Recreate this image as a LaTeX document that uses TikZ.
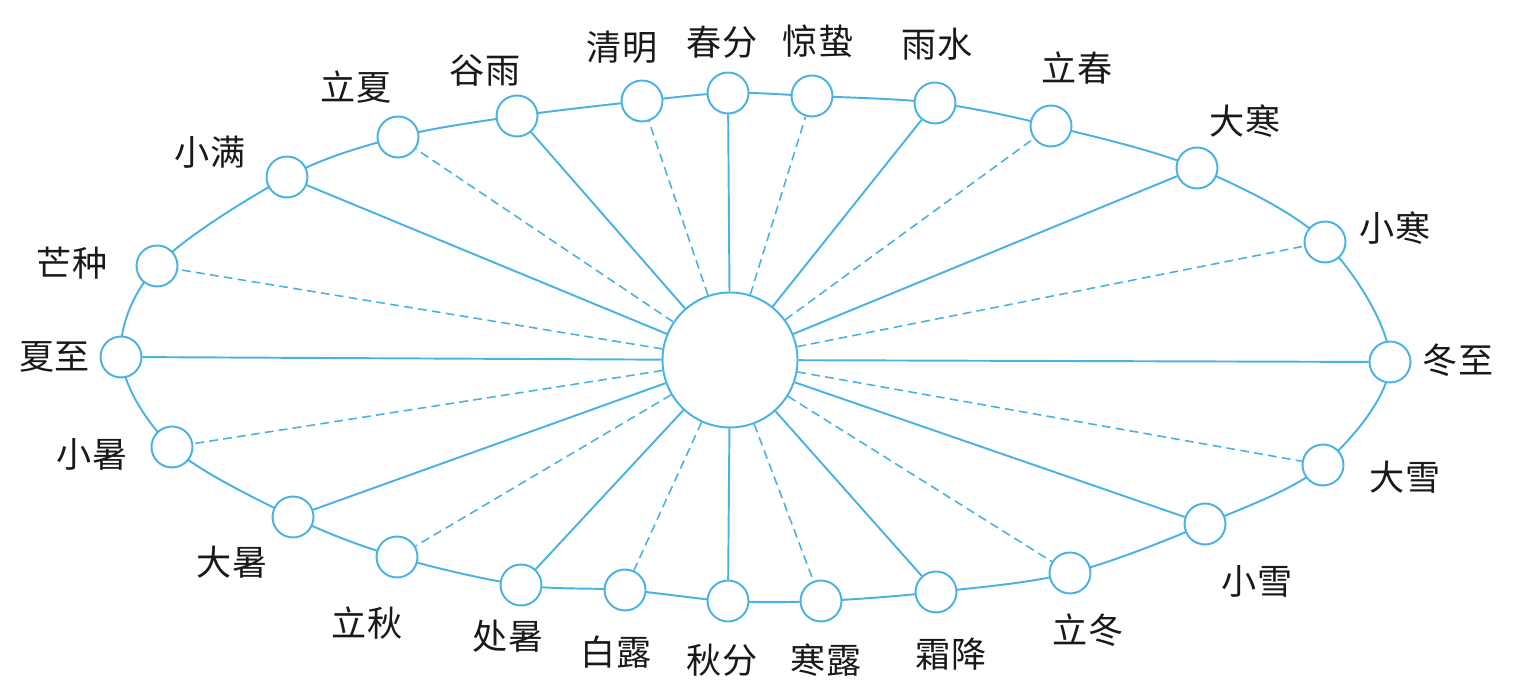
\documentclass[tikz,border=0pt]{standalone}
\usepackage{fontspec}
\newfontfamily\cjk{Noto Sans CJK SC}
\usepackage{tikz}
\usetikzlibrary{backgrounds}
\definecolor{orbitblue}{RGB}{72,178,226}

\begin{document}
\begin{tikzpicture}[
  x=0.02cm, y=-0.02cm,
  term/.style={circle, draw=orbitblue, fill=white, line width=1.1pt,
               minimum size=0.82cm, inner sep=0pt},
  sun/.style={circle, draw=orbitblue, fill=white, line width=1.1pt,
              minimum size=2.7cm, inner sep=0pt},
  tname/.style={font=\cjk\fontsize{20}{24}\selectfont, text=black!90, inner sep=0pt},
  spoke/.style={draw=orbitblue, line width=1.1pt},
  halfspoke/.style={spoke, line width=0.9pt, dash pattern=on 5pt off 3pt}
]
  \useasboundingbox (0,0) rectangle (1519,688);

  \node[sun] (sun) at (730,360) {};

  % terms on the orbit
  \node[term] (xiazhi)    at (121,357)  {};
  \node[term] (mangzhong) at (157,266)  {};
  \node[term] (xiaoman)   at (287,177)  {};
  \node[term] (lixia)     at (398,137)  {};
  \node[term] (guyu)      at (517,116)  {};
  \node[term] (qingming)  at (642,101)  {};
  \node[term] (chunfen)   at (728,93)   {};
  \node[term] (jingzhe)   at (812,96)   {};
  \node[term] (yushui)    at (935,103)  {};
  \node[term] (lichun)    at (1051,126) {};
  \node[term] (dahan)     at (1197,168) {};
  \node[term] (xiaohan)   at (1325,242) {};
  \node[term] (dongzhi)   at (1390,362) {};
  \node[term] (daxue)     at (1323,465) {};
  \node[term] (xiaoxue)   at (1205,524) {};
  \node[term] (lidong)    at (1070,573) {};
  \node[term] (shuangjiang) at (936,592) {};
  \node[term] (hanlu)     at (821,601)  {};
  \node[term] (qiufen)    at (728,601)  {};
  \node[term] (bailu)     at (625,590)  {};
  \node[term] (chushu)    at (521,585)  {};
  \node[term] (liqiu)     at (397,557)  {};
  \node[term] (dashu)     at (293,517)  {};
  \node[term] (xiaoshu)   at (172,447)  {};

  % the orbit itself
  \begin{scope}[on background layer]
    \draw[spoke] plot[smooth cycle, tension=0.55] coordinates {
      (xiazhi.center) (mangzhong.center) (xiaoman.center) (lixia.center)
      (guyu.center) (qingming.center) (chunfen.center) (jingzhe.center)
      (yushui.center) (lichun.center) (dahan.center) (xiaohan.center)
      (dongzhi.center) (daxue.center) (xiaoxue.center) (lidong.center)
      (shuangjiang.center) (hanlu.center) (qiufen.center) (bailu.center)
      (chushu.center) (liqiu.center) (dashu.center) (xiaoshu.center)};
  \end{scope}

  % spokes
  \draw[spoke]     (sun) -- (xiazhi);
  \draw[halfspoke] (sun) -- (mangzhong);
  \draw[spoke]     (sun) -- (xiaoman);
  \draw[halfspoke] (sun) -- (lixia);
  \draw[spoke]     (sun) -- (guyu);
  \draw[halfspoke] (sun) -- (qingming);
  \draw[spoke]     (sun) -- (chunfen);
  \draw[halfspoke] (sun) -- (jingzhe);
  \draw[spoke]     (sun) -- (yushui);
  \draw[halfspoke] (sun) -- (lichun);
  \draw[spoke]     (sun) -- (dahan);
  \draw[halfspoke] (sun) -- (xiaohan);
  \draw[spoke]     (sun) -- (dongzhi);
  \draw[halfspoke] (sun) -- (daxue);
  \draw[spoke]     (sun) -- (xiaoxue);
  \draw[halfspoke] (sun) -- (lidong);
  \draw[spoke]     (sun) -- (shuangjiang);
  \draw[halfspoke] (sun) -- (hanlu);
  \draw[spoke]     (sun) -- (qiufen);
  \draw[halfspoke] (sun) -- (bailu);
  \draw[spoke]     (sun) -- (chushu);
  \draw[halfspoke] (sun) -- (liqiu);
  \draw[spoke]     (sun) -- (dashu);
  \draw[halfspoke] (sun) -- (xiaoshu);

  % names
  \node[tname] (xiazhiL)    at (55,357)   {夏至};
  \node[tname] (mangzhongL) at (72,263)   {芒种};
  \node[tname] (xiaomanL)   at (210,152)  {小满};
  \node[tname] (lixiaL)     at (356,87)   {立夏};
  \node[tname] (guyuL)      at (485,70)   {谷雨};
  \node[tname] (qingmingL)  at (622,47)   {清明};
  \node[tname] (chunfenL)   at (722,42)   {春分};
  \node[tname] (jingzheL)   at (818,41)   {惊蛰};
  \node[tname] (yushuiL)    at (937,44)   {雨水};
  \node[tname] (lichunL)    at (1077,68)  {立春};
  \node[tname] (dahanL)     at (1245,121) {大寒};
  \node[tname] (xiaohanL)   at (1395,228) {小寒};
  \node[tname] (dongzhiL)   at (1458,360) {冬至};
  \node[tname] (daxueL)     at (1405,477) {大雪};
  \node[tname] (xiaoxueL)   at (1257,581) {小雪};
  \node[tname] (lidongL)    at (1088,630) {立冬};
  \node[tname] (shuangjiangL) at (951,654) {霜降};
  \node[tname] (hanluL)     at (826,660)  {寒露};
  \node[tname] (qiufenL)    at (722,660)  {秋分};
  \node[tname] (bailuL)     at (616,652)  {白露};
  \node[tname] (chushuL)    at (508,636)  {处暑};
  \node[tname] (liqiuL)     at (367,623)  {立秋};
  \node[tname] (dashuL)     at (232,562)  {大暑};
  \node[tname] (xiaoshuL)   at (92,454)   {小暑};
\end{tikzpicture}
\end{document}
